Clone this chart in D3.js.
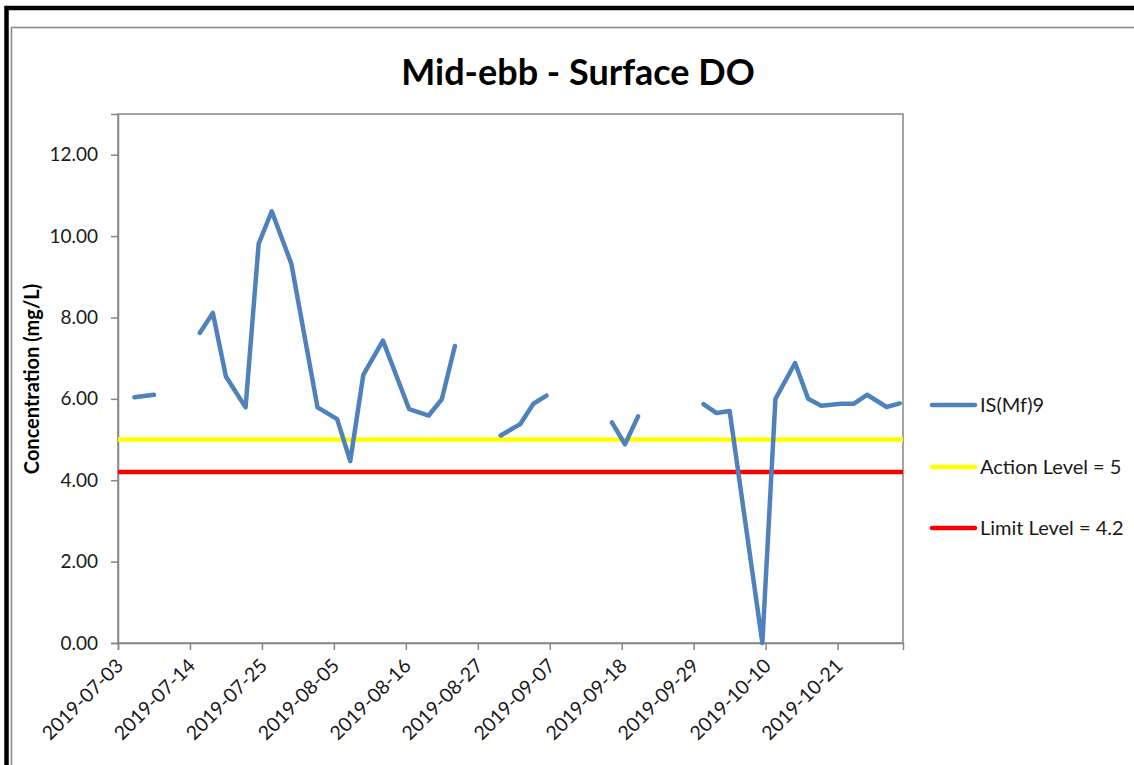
<!DOCTYPE html>
<html>
<head>
<meta charset="utf-8">
<script src="https://cdn.jsdelivr.net/npm/d3@7"></script>
<style>
  html, body { margin: 0; padding: 0; background: #fff; }
  svg { display: block; font-family: Lato, "Open Sans", sans-serif; }
</style>
</head>
<body>
<svg id="chart" width="1134" height="765"></svg>
<script>
// ---- data ----
const chartTitle = "Mid-ebb - Surface DO";
const yAxisTitle = "Concentration (mg/L)";
const seriesName = "IS(Mf)9";
const dates = [
  "2019-07-05","2019-07-08","2019-07-11",
  "2019-07-15","2019-07-17","2019-07-19","2019-07-22","2019-07-24","2019-07-26","2019-07-29",
  "2019-08-02","2019-08-05","2019-08-07","2019-08-09","2019-08-12","2019-08-16","2019-08-19",
  "2019-08-21","2019-08-23","2019-08-27",
  "2019-08-30","2019-09-02","2019-09-04","2019-09-06","2019-09-10","2019-09-13",
  "2019-09-16","2019-09-18","2019-09-20","2019-09-24","2019-09-27",
  "2019-09-30","2019-10-02","2019-10-04","2019-10-09","2019-10-11","2019-10-14","2019-10-16",
  "2019-10-18","2019-10-21","2019-10-23","2019-10-25","2019-10-28","2019-10-30"
];
const values = [
  6.04, 6.10, null,
  7.62, 8.11, 6.55, 5.79, 9.81, 10.61, 9.32,
  5.79, 5.50, 4.47, 6.59, 7.43, 5.75, 5.59,
  5.99, 7.30, null,
  5.10, 5.38, 5.88, 6.08, null, null,
  5.42, 4.88, 5.57, null, null,
  5.87, 5.65, 5.70, 0.00, 6.00, 6.88, 6.00,
  5.83, 5.88, 5.88, 6.10, 5.80, 5.89
];
const actionLevel = 5;
const limitLevel = 4.2;
const levelNames = ["Action Level = 5", "Limit Level = 4.2"];
const xDomain = ["2019-07-03", "2019-10-31"];
const xTickLabels = ["2019-07-03","2019-07-14","2019-07-25","2019-08-05","2019-08-16",
  "2019-08-27","2019-09-07","2019-09-18","2019-09-29","2019-10-10","2019-10-21"];
const yTicks = [0, 2, 4, 6, 8, 10, 12];
const yMax = 13;

// ---- layout ----
const parse = d3.utcParse("%Y-%m-%d");
const svg = d3.select("#chart");
const plot = { left: 118, right: 903, top: 114, bottom: 643 };
const axisColor = "#868686";

// outer frame (black) and chart area border (gray)
svg.append("rect").attr("x", 6.5).attr("y", 8).attr("width", 1200).attr("height", 900)
  .attr("fill", "none").attr("stroke", "#000").attr("stroke-width", 4.5);
svg.append("rect").attr("x", 11.5).attr("y", 27.5).attr("width", 1200).attr("height", 900)
  .attr("fill", "#fff").attr("stroke", "#8a8a8a").attr("stroke-width", 1.6);

const x = d3.scaleUtc().domain(xDomain.map(parse)).range([plot.left, plot.right]);
const y = d3.scaleLinear().domain([0, yMax]).range([plot.bottom, plot.top]);

// plot area border
svg.append("rect").attr("x", plot.left).attr("y", plot.top)
  .attr("width", plot.right - plot.left).attr("height", plot.bottom - plot.top)
  .attr("fill", "none").attr("stroke", axisColor).attr("stroke-width", 1.5);

// title
svg.append("text").attr("x", 578).attr("y", 85).attr("text-anchor", "middle")
  .attr("font-size", 36).attr("font-weight", "bold").attr("fill", "#000").text(chartTitle);

// y axis
const yAxis = svg.append("g").attr("transform", `translate(${plot.left},0)`)
  .call(d3.axisLeft(y).tickValues(yTicks).tickFormat(d3.format(".2f")).tickSize(7).tickPadding(13));
yAxis.select(".domain").attr("stroke", axisColor).attr("stroke-width", 1.5);
yAxis.selectAll(".tick line").attr("stroke", axisColor).attr("stroke-width", 1.5);
yAxis.selectAll(".tick text").attr("font-size", 19).attr("fill", "#1a1a1a")
  .attr("font-family", "Lato, sans-serif");

svg.append("text").attr("transform", "translate(39,379) rotate(-90)")
  .attr("text-anchor", "middle").attr("font-size", 20).attr("font-weight", "bold")
  .attr("fill", "#000").text(yAxisTitle);

// x axis
const xAxis = svg.append("g").attr("transform", `translate(0,${plot.bottom})`)
  .call(d3.axisBottom(x).tickValues(xTickLabels.map(parse)).tickFormat(d3.utcFormat("%Y-%m-%d")).tickSize(7));
xAxis.select(".domain").attr("stroke", axisColor).attr("stroke-width", 1.5);
xAxis.selectAll(".tick line").attr("stroke", axisColor).attr("stroke-width", 1.5);
xAxis.selectAll(".tick text")
  .attr("font-size", 19.5).attr("fill", "#1a1a1a").attr("font-family", "Lato, sans-serif")
  .attr("text-anchor", "end").attr("dy", null).attr("y", 0)
  .attr("transform", "translate(6,24) rotate(-45)");

// level lines
svg.append("line").attr("x1", plot.left).attr("x2", plot.right)
  .attr("y1", y(actionLevel)).attr("y2", y(actionLevel))
  .attr("stroke", "#ffff00").attr("stroke-width", 4.5);
svg.append("line").attr("x1", plot.left).attr("x2", plot.right)
  .attr("y1", y(limitLevel)).attr("y2", y(limitLevel))
  .attr("stroke", "#ff0000").attr("stroke-width", 4.5);

// data line (points centred in each day)
const data = dates.map((d, i) => ({ date: d3.utcHour.offset(parse(d), 12), value: values[i] }));
const line = d3.line().defined(d => d.value !== null)
  .x(d => x(d.date)).y(d => y(d.value));
svg.append("path").datum(data).attr("d", line)
  .attr("fill", "none").attr("stroke", "#4f81bd").attr("stroke-width", 4.5)
  .attr("stroke-linejoin", "round").attr("stroke-linecap", "round");

// legend
const legendItems = [
  { name: seriesName, color: "#4f81bd", y: 405 },
  { name: levelNames[0], color: "#ffff00", y: 467 },
  { name: levelNames[1], color: "#ff0000", y: 528 }
];
const lg = svg.append("g");
legendItems.forEach(it => {
  lg.append("line").attr("x1", 932).attr("x2", 975).attr("y1", it.y).attr("y2", it.y)
    .attr("stroke", it.color).attr("stroke-width", 4.5).attr("stroke-linecap", "round");
  lg.append("text").attr("x", 980).attr("y", it.y + 7).attr("font-size", 20)
    .attr("fill", "#1a1a1a").text(it.name);
});
</script>
</body>
</html>
